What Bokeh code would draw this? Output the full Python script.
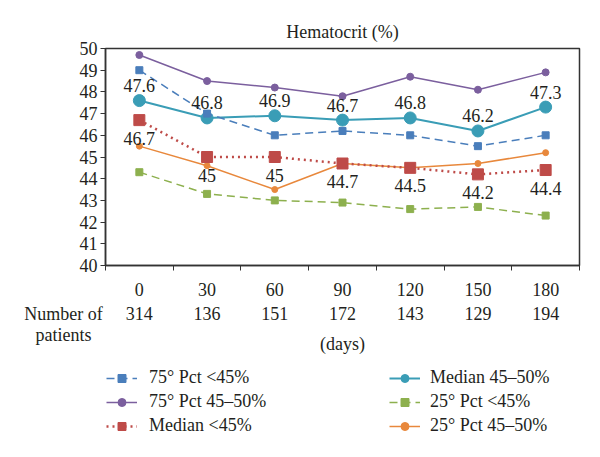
from bokeh.plotting import figure
from bokeh.models import (Range1d, FixedTicker, LinearAxis, Label, LabelSet,
                          ColumnDataSource, Legend, LegendItem)
from bokeh.core.properties import value
from bokeh.embed import file_html
from bokeh.resources import INLINE

# ---- data ----
days = ["0", "30", "60", "90", "120", "150", "180"]
patients = ["314", "136", "151", "172", "143", "129", "194"]
p75_lt45 = [49.0, 47.0, 46.0, 46.2, 46.0, 45.5, 46.0]
p75_45_50 = [49.7, 48.5, 48.2, 47.8, 48.7, 48.1, 48.9]
med_lt45 = [46.7, 45.0, 45.0, 44.7, 44.5, 44.2, 44.4]
med_45_50 = [47.6, 46.8, 46.9, 46.7, 46.8, 46.2, 47.3]
p25_lt45 = [44.3, 43.3, 43.0, 42.9, 42.6, 42.7, 42.3]
p25_45_50 = [45.5, 44.6, 43.5, 44.7, 44.5, 44.7, 45.2]
y_ticks = list(range(40, 51))

FONT = "Liberation Serif"
FS = "18px"
TXT = "#231f20"
AX = "#333333"

W = 592
LEFT, RIGHT, TOP = 105, 13, 48
H_A, H_B = 302, 147
FRAME_BOTTOM = 265

n = len(days)
xs = [i + 0.5 for i in range(n)]
bounds = list(range(n + 1))

# ================= main chart =================
p = figure(width=W, height=H_A, x_range=Range1d(0, n), y_range=Range1d(40, 50),
           output_backend="svg", toolbar_location=None, x_axis_location=None,
           min_border_left=LEFT, min_border_right=RIGHT, min_border_top=TOP,
           min_border_bottom=H_A - FRAME_BOTTOM)
p.grid.visible = False
p.outline_line_color = AX
p.outline_line_width = 1.5

p.title.text = "Hematocrit (%)"
p.title.align = "center"
p.title.text_font = FONT
p.title.text_font_size = FS
p.title.text_font_style = "normal"
p.title.text_color = TXT
p.title.standoff = 13

ya = p.yaxis[0]
ya.ticker = FixedTicker(ticks=y_ticks)
ya.major_tick_in = 0
ya.major_tick_out = 5
ya.minor_tick_line_color = None
ya.axis_line_color = AX
ya.axis_line_width = 1.5
ya.major_tick_line_color = AX
ya.major_label_text_font = FONT
ya.major_label_text_font_size = FS
ya.major_label_text_color = TXT
ya.major_label_standoff = 3

xa1 = LinearAxis(ticker=FixedTicker(ticks=bounds), major_tick_in=0, major_tick_out=5,
                 minor_tick_line_color=None,
                 major_label_overrides={b: "" for b in bounds},
                 major_label_text_font_size="1px", major_label_standoff=0,
                 axis_line_color=AX, axis_line_width=1.5, major_tick_line_color=AX)
p.add_layout(xa1, "below")

xa2 = LinearAxis(ticker=FixedTicker(ticks=xs),
                 major_label_overrides={x: d for x, d in zip(xs, days)},
                 axis_line_color=None, major_tick_line_color=None, minor_tick_line_color=None,
                 major_tick_out=0, major_tick_in=0, major_label_standoff=12,
                 major_label_text_font=FONT, major_label_text_font_size=FS,
                 major_label_text_color=TXT)
p.add_layout(xa2, "below")

BLUE = "#4a7ebb"
PURPLE = "#7b5f9e"
RED = "#be4b48"
TEAL = "#3a9db6"
GREEN = "#8db04e"
ORANGE = "#e8883c"

src = ColumnDataSource(dict(x=xs, p75a=p75_lt45, p75b=p75_45_50, meda=med_lt45,
                            medb=med_45_50, p25a=p25_lt45, p25b=p25_45_50,
                            meda_t=[f"{v:g}" for v in med_lt45],
                            medb_t=[f"{v:g}" for v in med_45_50]))

STY = {
    "p25a": dict(color=GREEN, lw=1.5, dash="8 5", marker="square", size=7),
    "p25b": dict(color=ORANGE, lw=1.5, dash="solid", marker="circle", size=6),
    "p75b": dict(color=PURPLE, lw=1.5, dash="solid", marker="circle", size=7),
    "medb": dict(color=TEAL, lw=2, dash="solid", marker="circle", size=12),
    "p75a": dict(color=BLUE, lw=1.5, dash="8 5", marker="square", size=7),
    "meda": dict(color=RED, lw=2.5, dash="2 4", marker="square", size=11),
}

for key, s in STY.items():
    p.line("x", key, source=src, line_color=s["color"], line_width=s["lw"], line_dash=s["dash"])
    p.scatter("x", key, source=src, marker=s["marker"], size=s["size"],
              fill_color=s["color"], line_color=s["color"])

p.add_layout(LabelSet(x="x", y="medb", text="medb_t", source=src, y_offset=15,
                      text_align="center", text_baseline="middle", text_font=FONT,
                      text_font_size=FS, text_color=TXT))
p.add_layout(LabelSet(x="x", y="meda", text="meda_t", source=src, y_offset=-18,
                      text_align="center", text_baseline="middle", text_font=FONT,
                      text_font_size=FS, text_color=TXT))

# ================= lower strip: patients row, captions, legend =================
ppu = (W - LEFT - RIGHT) / n
p2 = figure(width=W, height=H_B, x_range=Range1d(-LEFT / ppu, n + RIGHT / ppu),
            y_range=Range1d(0, H_B), output_backend="svg", toolbar_location=None,
            x_axis_location=None, y_axis_location=None, min_border=0,
            min_border_left=0, min_border_right=0, min_border_top=0, min_border_bottom=0)
p2.grid.visible = False
p2.outline_line_color = None

row_patients = H_B - 11
p2.text(x=xs, y=row_patients, text=patients, text_align="center", text_baseline="middle",
        text_font=value(FONT), text_font_size=value(FS), text_color=TXT)
p2.add_layout(Label(x=-0.62, y=row_patients, text="Number of", text_align="center",
                    text_baseline="middle", text_font=FONT, text_font_size=FS, text_color=TXT))
p2.add_layout(Label(x=-0.62, y=H_B - 32, text="patients", text_align="center",
                    text_baseline="middle", text_font=FONT, text_font_size=FS, text_color=TXT))
p2.add_layout(Label(x=n / 2, y=H_B - 41, text="(days)", text_align="center",
                    text_baseline="middle", text_font=FONT, text_font_size=FS, text_color=TXT))

# invisible legend proxies (one NaN row each) so the legend can draw its symbols
proxies = {}
for key, s in STY.items():
    rl = p2.line(x=[float("nan")], y=[float("nan")], line_color=s["color"],
                 line_width=s["lw"], line_dash=s["dash"])
    rm = p2.scatter(x=[float("nan")], y=[float("nan")], marker=s["marker"],
                    size=min(s["size"], 10),
                    fill_color=s["color"], line_color=s["color"])
    proxies[key] = [rl, rm]


def mk_legend(items, loc, standoff):
    return Legend(items=items, location=loc, orientation="vertical",
                  glyph_width=31, glyph_height=20, label_height=20, spacing=3,
                  label_standoff=standoff, padding=0, margin=0,
                  border_line_color=None, background_fill_alpha=0,
                  label_text_font=FONT, label_text_font_size=FS, label_text_color=TXT)


leg1 = mk_legend([
    LegendItem(label="75° Pct <45%", renderers=proxies["p75a"]),
    LegendItem(label="75° Pct 45–50%", renderers=proxies["p75b"]),
    LegendItem(label="Median <45%", renderers=proxies["meda"]),
], (106, 13), 12)
leg2 = mk_legend([
    LegendItem(label="Median 45–50%", renderers=proxies["medb"]),
    LegendItem(label="25° Pct <45%", renderers=proxies["p25a"]),
    LegendItem(label="25° Pct 45–50%", renderers=proxies["p25b"]),
], (389, 13), 10)
p2.add_layout(leg1)
p2.add_layout(leg2)

open("out.html", "w").write(file_html([p, p2], INLINE))
